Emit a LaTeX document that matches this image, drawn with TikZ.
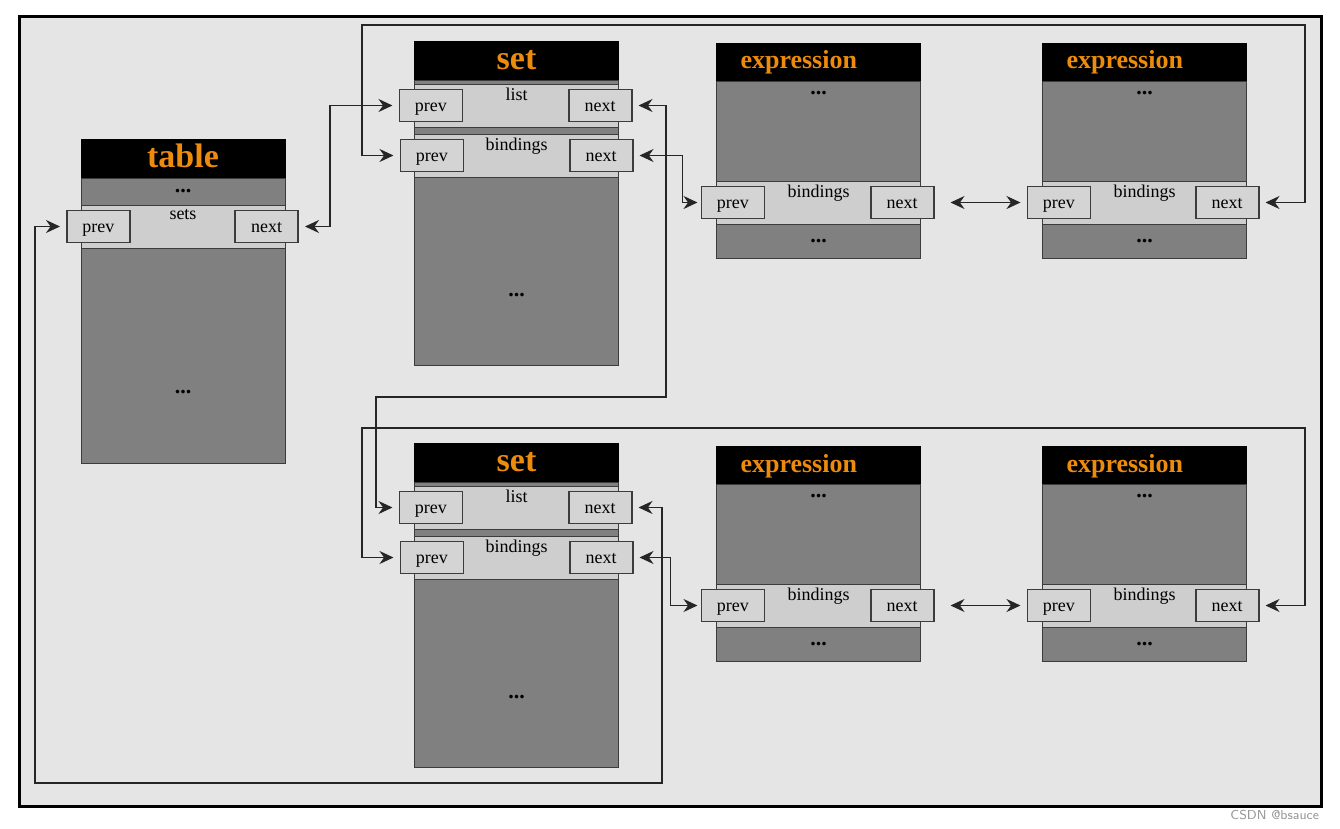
\documentclass[tikz,border=0pt]{standalone}
\usepackage{fontspec}
\setmainfont{Liberation Serif}
\usetikzlibrary{positioning, arrows.meta}
\usepackage{xcolor}
\definecolor{frameGray}{RGB}{229, 229, 229}
\definecolor{bodyGray}{RGB}{128, 128, 128}
\definecolor{stripGray}{RGB}{206, 206, 206}
\definecolor{fieldGray}{RGB}{212, 212, 212}
\definecolor{edgeGray}{RGB}{60, 60, 60}
\definecolor{titleOrange}{RGB}{236, 139, 12}
\definecolor{markGray}{RGB}{150, 150, 150}

\begin{document}
\begin{tikzpicture}
    [
        x=0.5pt, y=-0.5pt,
        >={Stealth[length=7pt, width=6.5pt]},
        header/.style={
            draw=black, fill=black, minimum width=102pt, inner sep=0pt,
            outer sep=0pt, text=titleOrange, text height=11pt, text depth=2pt,
            font=\bfseries\fontsize{17}{17}\selectfont
        },
        exprhead/.style={
            header, text width=78pt, inner xsep=12pt, align=left,
            text height=9pt, text depth=2pt,
            font=\bfseries\fontsize{13}{13}\selectfont
        },
        band/.style={
            draw=edgeGray, fill=bodyGray, minimum width=102pt, inner sep=0pt,
            outer sep=0pt, font=\bfseries\fontsize{11}{11}\selectfont
        },
        strip/.style={
            draw=edgeGray, fill=stripGray, minimum width=102pt,
            minimum height=21.5pt, inner sep=0pt, outer sep=0pt
        },
        field/.style={
            draw=edgeGray, fill=fieldGray, line width=0.8pt,
            minimum width=31.5pt, minimum height=16pt, inner sep=0pt,
            text height=6pt, text depth=0pt,
            font=\fontsize{9}{9}\selectfont
        },
        dots/.style={
            anchor=center, inner sep=0pt,
            font=\bfseries\fontsize{11}{11}\selectfont
        },
        tag/.style={anchor=north, inner sep=2pt, font=\fontsize{9}{9}\selectfont},
        link/.style={
            <->, draw=black!85, line width=0.7pt, shorten <=3pt, shorten >=3pt
        }
    ]

\useasboundingbox (0, 0) rectangle (1340, 829);
\draw [line width=1.5pt, fill=frameGray] (19, 17) rectangle (1321, 806);

% Table
\node (table) [header, minimum height=19.5pt] at (183, 158.5) {table};
\node (table-top) [band, minimum height=13.5pt, below=0pt of table] {...};
\node (table-sets) [strip, below=0pt of table-top, label={[tag]north:sets}] {};
\node (table-body) [
        band, minimum height=107.5pt, below=0pt of table-sets,
        label={[dots, yshift=35.5pt]south:...}
    ] {};
\node (table-prev) [field, anchor=west] at ([xshift=-7.5pt]table-sets.west) {prev};
\node (table-next) [field, anchor=east] at ([xshift=7pt]table-sets.east) {next};

% First set
\node (set1) [header, minimum height=19.5pt] at (516.5, 60.5) {set};
\node (set1-gap) [band, minimum height=2pt, below=0pt of set1] {};
\node (set1-list) [strip, below=0pt of set1-gap, label={[tag]north:list}] {};
\node (set1-mid) [band, minimum height=3.5pt, below=0pt of set1-list] {};
\node (set1-bind) [strip, below=0pt of set1-mid, label={[tag]north:bindings}] {};
\node (set1-body) [
        band, minimum height=94pt, below=0pt of set1-bind,
        label={[dots, yshift=35pt]south:...}
    ] {};
\node (set1-lprev) [field, anchor=west] at ([xshift=-8pt]set1-list.west) {prev};
\node (set1-lnext) [field, anchor=east] at ([xshift=7pt]set1-list.east) {next};
\node (set1-bprev) [field, anchor=west] at ([xshift=-7.5pt]set1-bind.west) {prev};
\node (set1-bnext) [field, anchor=east] at ([xshift=7.5pt]set1-bind.east) {next};

% Second set
\node (set2) [header, minimum height=19.5pt] at (516.5, 462.5) {set};
\node (set2-gap) [band, minimum height=2pt, below=0pt of set2] {};
\node (set2-list) [strip, below=0pt of set2-gap, label={[tag]north:list}] {};
\node (set2-mid) [band, minimum height=3.5pt, below=0pt of set2-list] {};
\node (set2-bind) [strip, below=0pt of set2-mid, label={[tag]north:bindings}] {};
\node (set2-body) [
        band, minimum height=94pt, below=0pt of set2-bind,
        label={[dots, yshift=35pt]south:...}
    ] {};
\node (set2-lprev) [field, anchor=west] at ([xshift=-8pt]set2-list.west) {prev};
\node (set2-lnext) [field, anchor=east] at ([xshift=7pt]set2-list.east) {next};
\node (set2-bprev) [field, anchor=west] at ([xshift=-7.5pt]set2-bind.west) {prev};
\node (set2-bnext) [field, anchor=east] at ([xshift=7.5pt]set2-bind.east) {next};

% Expressions of the first set
\node (expr1) [exprhead, minimum height=19pt] at (818.5, 62) {expression};
\node (expr1-body) [
        band, minimum height=50pt, below=0pt of expr1,
        label={[dots, yshift=-6pt]north:...}
    ] {};
\node (expr1-bind) [strip, below=0pt of expr1-body, label={[tag]north:bindings}] {};
\node (expr1-low) [band, minimum height=17pt, below=0pt of expr1-bind] {...};
\node (expr1-prev) [field, anchor=west] at ([xshift=-8pt]expr1-bind.west) {prev};
\node (expr1-next) [field, anchor=east] at ([xshift=7pt]expr1-bind.east) {next};

\node (expr2) [exprhead, minimum height=19pt] at (1144.5, 62) {expression};
\node (expr2-body) [
        band, minimum height=50pt, below=0pt of expr2,
        label={[dots, yshift=-6pt]north:...}
    ] {};
\node (expr2-bind) [strip, below=0pt of expr2-body, label={[tag]north:bindings}] {};
\node (expr2-low) [band, minimum height=17pt, below=0pt of expr2-bind] {...};
\node (expr2-prev) [field, anchor=west] at ([xshift=-8pt]expr2-bind.west) {prev};
\node (expr2-next) [field, anchor=east] at ([xshift=6.5pt]expr2-bind.east) {next};

% Expressions of the second set
\node (expr3) [exprhead, minimum height=19pt] at (818.5, 465) {expression};
\node (expr3-body) [
        band, minimum height=50pt, below=0pt of expr3,
        label={[dots, yshift=-6pt]north:...}
    ] {};
\node (expr3-bind) [strip, below=0pt of expr3-body, label={[tag]north:bindings}] {};
\node (expr3-low) [band, minimum height=17pt, below=0pt of expr3-bind] {...};
\node (expr3-prev) [field, anchor=west] at ([xshift=-8pt]expr3-bind.west) {prev};
\node (expr3-next) [field, anchor=east] at ([xshift=7pt]expr3-bind.east) {next};

\node (expr4) [exprhead, minimum height=19pt] at (1144.5, 465) {expression};
\node (expr4-body) [
        band, minimum height=50pt, below=0pt of expr4,
        label={[dots, yshift=-6pt]north:...}
    ] {};
\node (expr4-bind) [strip, below=0pt of expr4-body, label={[tag]north:bindings}] {};
\node (expr4-low) [band, minimum height=17pt, below=0pt of expr4-bind] {...};
\node (expr4-prev) [field, anchor=west] at ([xshift=-8pt]expr4-bind.west) {prev};
\node (expr4-next) [field, anchor=east] at ([xshift=6.5pt]expr4-bind.east) {next};

% Links
\draw [link] (table-next.east) -- ++(31, 0) |- (set1-lprev.west);
\draw [link] (set1-bprev.west) -| (362, 25) -- (1305, 25) |- (expr2-next.east);
\draw [link] (set1-lnext.east) -| (666, 397) -- (376, 397) |- (set2-lprev.west);
\draw [link, shorten >=1.5pt] (set1-bnext.east) -- ++(49, 0) |- (expr1-prev.west);
\draw [link, shorten <=8pt] (expr1-next.east) -- (expr2-prev.west);
\draw [link] (set2-bprev.west) -| (362, 428) -- (1305, 428) |- (expr4-next.east);
\draw [link, shorten >=1.5pt] (set2-bnext.east) -- ++(37, 0) |- (expr3-prev.west);
\draw [link, shorten <=8pt] (expr3-next.east) -- (expr4-prev.west);
\draw [link] (table-prev.west) -| (35, 783) -- (662, 783) |- (set2-lnext.east);

\node (mark) [anchor=east, text=markGray, font=\sffamily\fontsize{6.5}{7}\selectfont]
    at (1326, 815) {CSDN @bsauce};

\end{tikzpicture}
\end{document}
